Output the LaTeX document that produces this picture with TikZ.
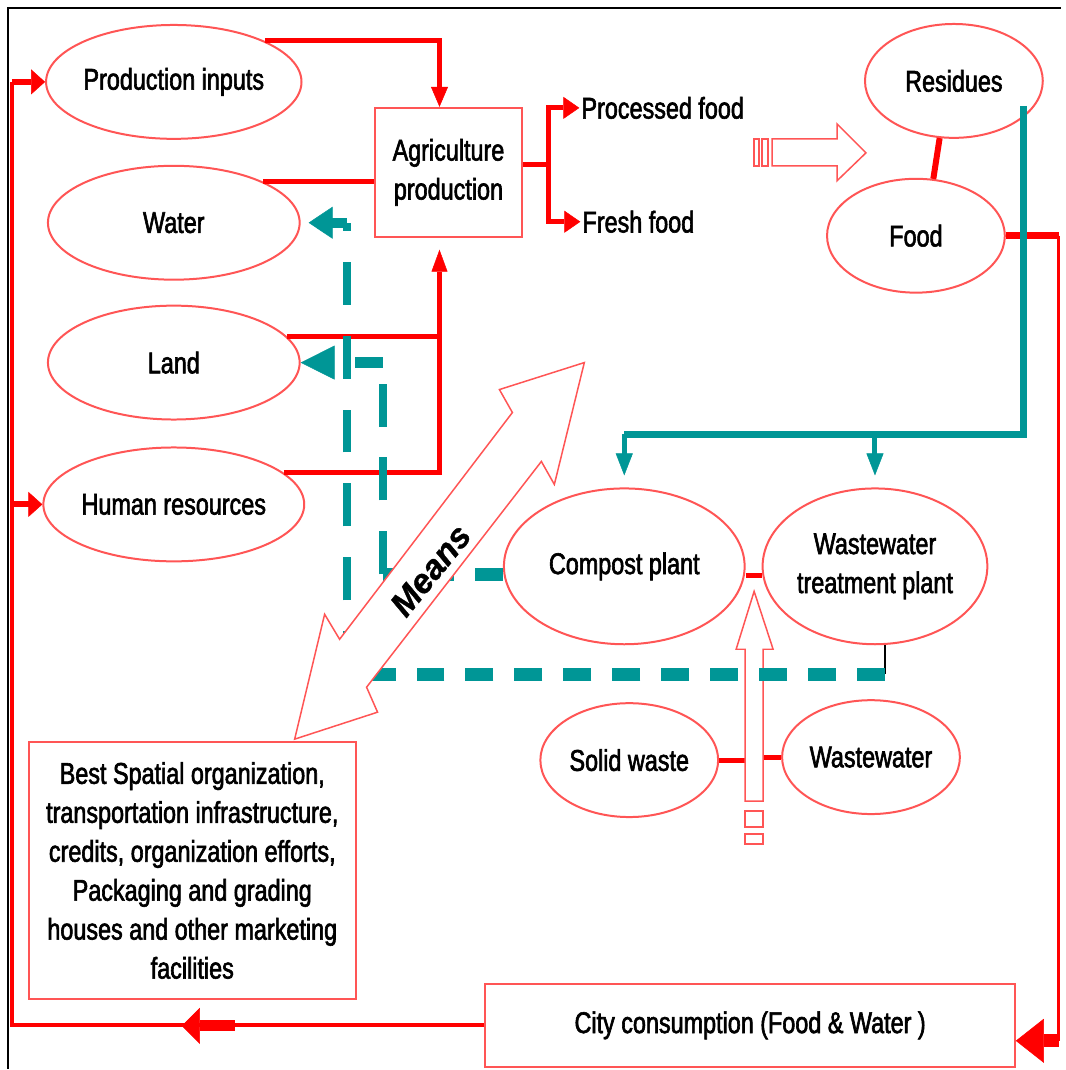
\documentclass[tikz,border=0pt]{standalone}
\usepackage{fontspec}
\setmainfont{Liberation Sans}[FakeStretch=0.78,FakeBold=2]
\newfontfamily\meansfont{Liberation Sans}[FakeBold=1]
\usetikzlibrary{shapes.geometric}
\usetikzlibrary{arrows.meta}
\definecolor{lightred}{RGB}{255,85,85}
\definecolor{flowteal}{RGB}{0,150,150}

\begin{document}
\begin{tikzpicture}[x=1pt, y=-1pt, font=\fontsize{30}{39}\selectfont,
    blob/.style={draw=lightred, line width=2pt, ellipse, inner sep=0pt, align=center},
    bigblob/.style={blob, minimum width=252pt, minimum height=114pt},
    smallblob/.style={blob, minimum width=178pt, minimum height=114pt},
    panel/.style={draw=lightred, line width=2pt, rectangle, align=center},
    redln/.style={red, line width=5pt},
    tealln/.style={flowteal, line width=7pt},
    tealh/.style={flowteal, line width=13pt, dash pattern=on 28pt off 21pt},
    tealv/.style={flowteal, line width=8pt, dash pattern=on 43pt off 31pt},
    hollow/.style={draw=lightred, line width=1.5pt, line join=miter}]

    \fill[white] (0,0) rectangle (1062,1070);
    \draw[black, line width=2.5pt] (8,1070) -- (8,8) -- (1062,8);

    % Production side
    \node[bigblob] (prod) at (174,82) {Production inputs};
    \node[bigblob] (water) at (174,223) {Water};
    \node[bigblob] (land) at (174,363) {Land};
    \node[bigblob] (hum) at (174,505) {Human resources};
    \node[panel, minimum width=148pt, minimum height=129pt] (agri) at (449,172.5) {Agriculture\\production};
    \node[anchor=west, inner sep=2pt] (proc) at (580,108) {Processed food};
    \node[anchor=west, inner sep=2pt] (fresh) at (581,222) {Fresh food};
    \node[smallblob] (resid) at (955,81) {Residues};
    \node[smallblob] (food) at (917,236) {Food};

    % Recycling side
    \node[blob, minimum width=241pt, minimum height=156pt] (compost) at (625,567) {Compost plant};
    \node[blob, minimum width=225pt, minimum height=156pt] (wwtp) at (876,567) {Wastewater\\treatment plant};
    \node[smallblob] (solid) at (630,761) {Solid waste};
    \node[smallblob] (wwater) at (872,758) {Wastewater};
    \node[panel, minimum width=327pt, minimum height=257pt] (best) at (192.5,871.5) {Best Spatial organization,\\transportation infrastructure,\\credits, organization efforts,\\Packaging and grading\\houses and other marketing\\facilities};
    \node[panel, minimum width=530pt, minimum height=83pt] (city) at (751,1026.5) {City consumption (Food \& Water )};

    \coordinate (agin) at (440,237);
    \coordinate (br) at (549,165);
    \coordinate (rtop) at (1060,236);
    \coordinate (rbot) at (1060,1042);
    \coordinate (lt) at (12,82);
    \coordinate (ba1) at (235,1027);
    \coordinate (ba2) at (182,1027);
    \coordinate (tt) at (1025,106);
    \coordinate (tb) at (1025,435);
    \coordinate (tk) at (886,675);
    \coordinate (dA) at (347,675);
    \coordinate (dB) at (347,223);
    \coordinate (dC) at (383,575);
    \coordinate (dD) at (383,363);
    \coordinate (upl) at (746,760);
    \coordinate (upr) at (764,760);

    \draw[redln, -{Triangle[length=20pt,width=17pt,line width=0.5pt]}] (prod.north east) -| (agin |- agri.north);
    \draw[redln] (water.north east) -- (water.north east -| agri.west);
    \draw[redln] (land.13) -- (land.13 -| agin);
    \draw[redln, -{Triangle[length=22pt,width=16pt,line width=0.5pt]}, shorten >=13pt] (hum.16) -| (agin);
    \draw[redln] ([yshift=7.5pt]agri.east) -- (br);
    \draw[redln, {Triangle[length=16pt,width=22pt,line width=0.5pt]}-{Triangle[length=16pt,width=22pt,line width=0.5pt]}] (proc.west) -| (br) |- (fresh.west);
    \draw[red, line width=6pt] (resid.256) -- (food.73);
    \draw[red, line width=7pt] (food.east) -- (rtop);
    \draw[red, line width=3pt] (rtop) -- (rbot);
    \draw[red, line width=13pt, -{Triangle[length=28pt,width=44pt,line width=0.5pt]}] (rbot) -- (rbot -| city.east);
    \draw[red, line width=4pt] (city.west) -| (lt);
    \draw[red, line width=6pt, -{Triangle[length=14pt,width=25pt,line width=0.5pt]}] (lt) -- (prod.west);
    \draw[red, line width=6pt, -{Triangle[length=14pt,width=25pt,line width=0.5pt]}] (lt |- hum.west) -- (hum.west);
    \draw[red, line width=11pt, -{Triangle[length=18pt,width=36pt,line width=0.5pt]}] (ba1) -- (ba2);
    \draw[redln] ([yshift=-9pt]compost.east) -- ([yshift=-9pt]wwtp.west);
    \draw[redln] (solid.east) -- (solid.east -| upl);
    \draw[redln] (upr |- wwater.west) -- (wwater.west);

    % Hollow arrows
    \draw[hollow] (773,139) -- (838,139) -- (838,124) -- (867,153) -- (838,181) -- (838,166) -- (773,166) -- cycle;
    \draw[hollow] (755,139) rectangle (760,166);
    \draw[hollow] (763,139) rectangle (769,166);
    \draw[hollow] (746,802) -- (746,650) -- (737,650) -- (755,592) -- (774,650) -- (764,650) -- (764,802) -- cycle;
    \draw[hollow] (746,812) rectangle (764,828);
    \draw[hollow] (746,835) rectangle (764,845);

    % Teal flows
    \draw[tealln] (tt) |- (compost |- tb);
    \draw[flowteal, line width=5pt, -{Triangle[length=22pt,width=17pt,line width=0.5pt]}, shorten >=12pt] (compost |- tb) -- (compost.north);
    \draw[flowteal, line width=5pt, -{Triangle[length=22pt,width=17pt,line width=0.5pt]}, shorten >=12pt] (wwtp |- tb) -- (wwtp.north);
    \draw[black, line width=2pt] (tk |- wwtp.south) -- (tk);
    \draw[tealh] (tk) -- (dA);
    \draw[tealv] (dA) -- (dB);
    \draw[tealh, line width=10pt, -{Triangle[length=24pt,width=32pt,line width=0.5pt]}, shorten >=8pt] (dB) -- (water.east);
    \draw[tealh] ([yshift=-8pt]compost.west) -- (dC);
    \draw[tealv] (dC) -- (dD);
    \draw[tealh, line width=11pt, -{Triangle[length=34pt,width=34pt,line width=0.5pt]}] (dD) -- (land.east);

    % Means
    \draw[hollow, fill=white] (585,363) -- (500,390) -- (513,413) -- (340,640) -- (325,615) -- (295,740) -- (378,713) -- (367,688) -- (542,462) -- (555,485) -- cycle;
    \node[rotate=51, font=\meansfont\fontsize{34}{40}\selectfont\bfseries\itshape] (means) at (431,571) {Means};
\end{tikzpicture}
\end{document}
